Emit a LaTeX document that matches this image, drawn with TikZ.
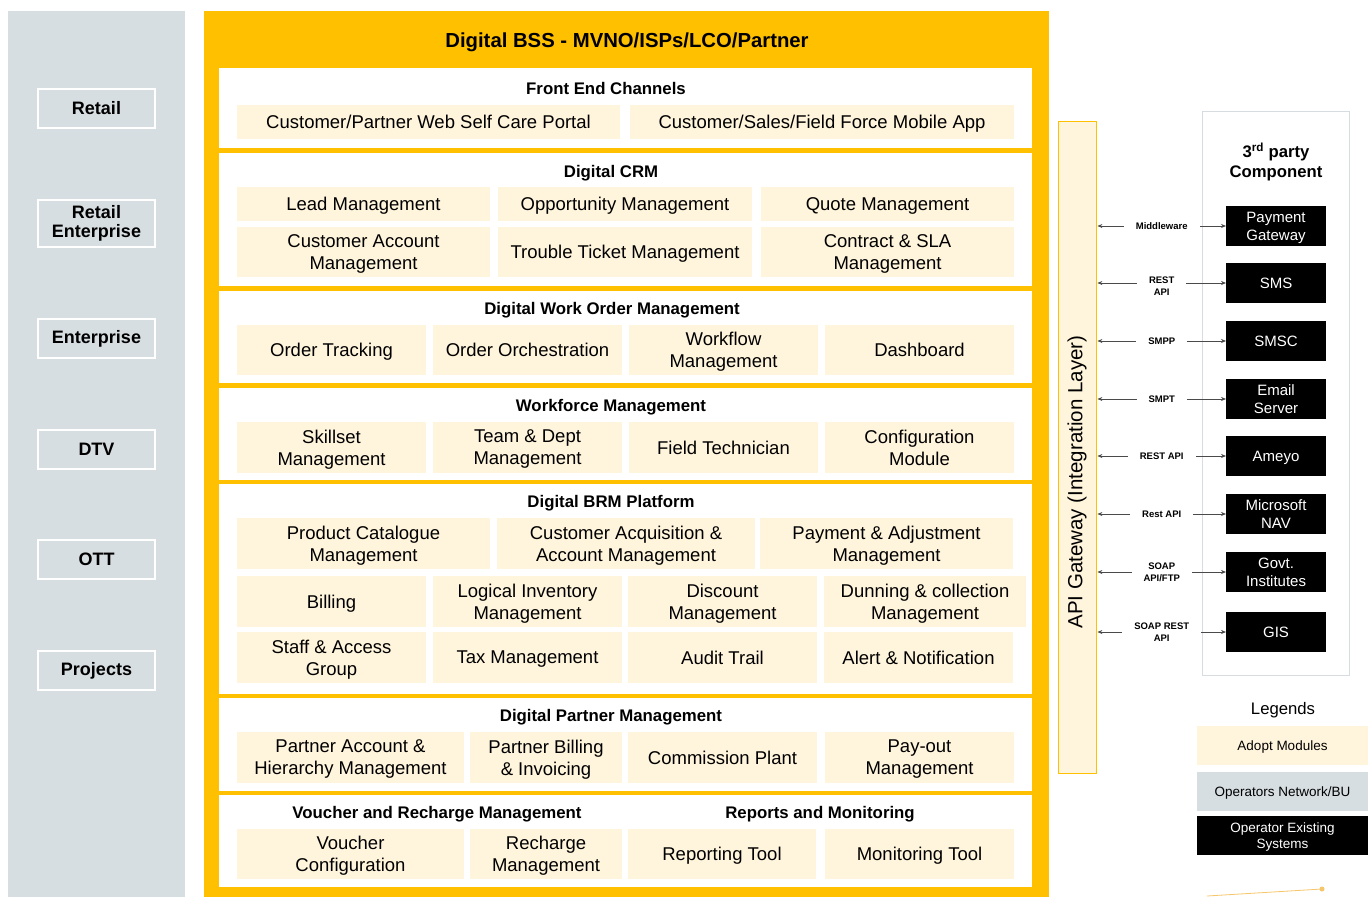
\documentclass[tikz,border=0pt]{standalone}
\usepackage{fontspec}
\setmainfont{Liberation Sans}
\usetikzlibrary{arrows.meta}
\definecolor{yel}{HTML}{FFC000}
\definecolor{cream}{HTML}{FFF5DC}
\definecolor{panelgray}{HTML}{D7DEE1}
\definecolor{bordergray}{HTML}{D6DCE0}
\definecolor{arrgray}{HTML}{4A4A4A}
\definecolor{faintorange}{HTML}{F5C76A}
\newcommand\boxat[6]{%
  \node[mod, minimum width={(#4-#2)*1pt}, minimum height={(#5-#3)*1pt}] (#1) at ({(#2+#4)/2},{(#3+#5)/2}) {#6};}
\tikzset{
  mod/.style={fill=cream, inner sep=0pt, outer sep=0pt, align=center, text depth=0pt, font=\fontsize{18.5}{22}\selectfont},
  sectitle/.style={inner sep=0pt, text depth=0pt, font=\bfseries\fontsize{16.8}{20}\selectfont},
  bizbox/.style={draw=white, line width=2pt, fill=panelgray, align=center, inner sep=0pt, minimum width=117, minimum height=39, font=\bfseries\fontsize{18}{19}\selectfont},
  extsys/.style={fill=black, text=white, align=center, inner sep=0pt, outer sep=0pt, minimum width=100, minimum height=40, text depth=0pt, font=\fontsize{15}{18}\selectfont},
  link/.style={draw=arrgray, line width=0.7pt, {Stealth[length=5pt,width=4pt]}-{Stealth[length=5pt,width=4pt]}},
  linklabel/.style={fill=white, inner xsep=12pt, inner ysep=1pt, align=center, font=\bfseries\fontsize{9.5}{12}\selectfont},
  legbox/.style={inner sep=0pt, minimum width=171, minimum height=39, align=center, text depth=0pt, font=\fontsize{13.5}{16}\selectfont}
}
\begin{document}
\begin{tikzpicture}[x=1pt,y=-1pt]
\useasboundingbox (0,0) rectangle (1370,897);
\fill[white] (0,0) rectangle (1370,897);
% left operators panel
\fill[panelgray] (8,11) rectangle (185,897);
\node[bizbox] (retail) at (96.5,108.5) {Retail};
\node[bizbox, minimum height=47] (retent) at (96.5,223.5) {Retail\\Enterprise};
\node[bizbox] (enterprise) at (96.5,338.5) {Enterprise};
\node[bizbox] (dtv) at (96.5,449.5) {DTV};
\node[bizbox] (ott) at (96.5,559.5) {OTT};
\node[bizbox] (projects) at (96.5,670.5) {Projects};
% main yellow panel
\fill[yel] (204,11) rectangle (1049,897);
\node[inner sep=0pt, text depth=0pt, font=\bfseries\fontsize{20.3}{24}\selectfont] (maintitle) at (627,40) {Digital BSS - MVNO/ISPs/LCO/Partner};
\fill[white] (219,68) rectangle (1032,148);
\fill[white] (219,153) rectangle (1032,286);
\fill[white] (219,291) rectangle (1032,383);
\fill[white] (219,388) rectangle (1032,480);
\fill[white] (219,484) rectangle (1032,694);
\fill[white] (219,698) rectangle (1032,791);
\fill[white] (219,795) rectangle (1032,887);
% section titles
\node[sectitle] (t1) at (606,88) {Front End Channels};
\node[sectitle] (t2) at (611,171) {Digital CRM};
\node[sectitle] (t3) at (612,308) {Digital Work Order Management};
\node[sectitle] (t4) at (611,405) {Workforce Management};
\node[sectitle] (t5) at (611,501) {Digital BRM Platform};
\node[sectitle] (t6) at (611,715) {Digital Partner Management};
\node[sectitle] (t7) at (437,812) {Voucher and Recharge Management};
\node[sectitle] (t8) at (820,812) {Reports and Monitoring};
% front end
\boxat{fe1}{237}{105}{620}{139}{Customer/Partner Web Self Care Portal}
\boxat{fe2}{630}{105}{1014}{139}{Customer/Sales/Field Force Mobile App}
% CRM
\boxat{lead}{237}{187}{490}{221}{Lead Management}
\boxat{opp}{498}{187}{752}{221}{Opportunity Management}
\boxat{quote}{761}{187}{1014}{221}{Quote Management}
\boxat{custacc}{237}{227}{490}{277}{Customer Account\\Management}
\boxat{trouble}{498}{227}{752}{277}{Trouble Ticket Management}
\boxat{contract}{761}{227}{1014}{277}{Contract \& SLA\\Management}
% work order
\boxat{ordtrack}{237}{325}{426}{375}{Order Tracking}
\boxat{orch}{433}{325}{622}{375}{Order Orchestration}
\boxat{workflow}{629}{325}{818}{375}{Workflow\\Management}
\boxat{dash}{825}{325}{1014}{375}{Dashboard}
% workforce
\boxat{skill}{237}{422}{426}{473}{Skillset\\Management}
\boxat{team}{433}{422}{622}{473}{Team \& Dept\\Management}
\boxat{fieldtech}{629}{422}{818}{473}{Field Technician}
\boxat{config}{825}{422}{1014}{473}{Configuration\\Module}
% BRM
\boxat{prodcat}{237}{518}{490}{569}{Product Catalogue\\Management}
\boxat{custacq}{497}{518}{755}{569}{Customer Acquisition \&\\Account Management}
\boxat{payadj}{760}{518}{1013}{569}{Payment \& Adjustment\\Management}
\boxat{billing}{237}{576}{426}{627}{Billing}
\boxat{loginv}{433}{576}{622}{627}{Logical Inventory\\Management}
\boxat{discount}{628}{576}{817}{627}{Discount\\Management}
\boxat{dunning}{824}{576}{1026}{627}{Dunning \& collection\\Management}
\boxat{staff}{237}{632}{426}{683}{Staff \& Access\\Group}
\boxat{tax}{433}{632}{622}{683}{Tax Management}
\boxat{audit}{628}{632}{817}{683}{Audit Trail}
\boxat{alert}{824}{632}{1013}{683}{Alert \& Notification}
% partner
\boxat{paracc}{237}{732}{464}{783}{Partner Account \&\\Hierarchy Management}
\boxat{parbill}{470}{732}{622}{783}{Partner Billing\\\& Invoicing}
\boxat{commission}{628}{732}{817}{783}{Commission Plant}
\boxat{payout}{825}{732}{1014}{783}{Pay-out\\Management}
% voucher / reports
\boxat{vconf}{237}{829}{464}{879}{Voucher\\Configuration}
\boxat{rechg}{470}{829}{622}{879}{Recharge\\Management}
\boxat{report}{628}{829}{816}{879}{Reporting Tool}
\boxat{monitor}{825}{829}{1014}{879}{Monitoring Tool}
% API gateway
\node[draw=yel, line width=1.8pt, fill=cream, minimum width=38, minimum height=652, inner sep=0pt] (gw) at (1077.5,447.5) {};
\node[rotate=90, inner sep=0pt, font=\fontsize{20.5}{24}\selectfont] (gwtext) at (1077,482) {API Gateway (Integration Layer)};
% third party panel
\node[draw=bordergray, line width=1.5pt, fill=white, minimum width=147, minimum height=564, inner sep=0pt] (tp) at (1276,393.5) {};
\node[align=center, inner sep=0pt, font=\bfseries\fontsize{16.7}{20}\selectfont] (tptitle) at (1276,162) {3\textsuperscript{rd} party\\Component};
\node[extsys] (pg) at (1276,226) {Payment\\Gateway};
\node[extsys] (sms) at (1276,283) {SMS};
\node[extsys] (smsc) at (1276,341) {SMSC};
\node[extsys] (email) at (1276,399) {Email\\Server};
\node[extsys] (ameyo) at (1276,456) {Ameyo};
\node[extsys] (nav) at (1276,514) {Microsoft\\NAV};
\node[extsys] (govt) at (1276,572) {Govt.\\Institutes};
\node[extsys] (gis) at (1276,632) {GIS};
% links
\draw[link] (gw.east |- pg) -- node[linklabel] (l1) {Middleware} (pg.west);
\draw[link] (gw.east |- sms) -- node[linklabel, yshift=-3pt] (l2) {REST\\API} (sms.west);
\draw[link] (gw.east |- smsc) -- node[linklabel] (l3) {SMPP} (smsc.west);
\draw[link] (gw.east |- email) -- node[linklabel] (l4) {SMPT} (email.west);
\draw[link] (gw.east |- ameyo) -- node[linklabel] (l5) {REST API} (ameyo.west);
\draw[link] (gw.east |- nav) -- node[linklabel] (l6) {Rest API} (nav.west);
\draw[link] (gw.east |- govt) -- node[linklabel] (l7) {SOAP\\API/FTP} (govt.west);
\draw[link] (gw.east |- gis) -- node[linklabel] (l8) {SOAP REST\\API} (gis.west);
% legends
\node[inner sep=0pt, text depth=0pt, font=\fontsize{16.7}{20}\selectfont] (legtitle) at (1283,708) {Legends};
\node[legbox, fill=cream] (leg1) at (1282.5,745.5) {Adopt Modules};
\node[legbox, fill=panelgray] (leg2) at (1282.5,791.5) {Operators Network/BU};
\node[legbox, fill=black, text=white, font=\fontsize{13.5}{16}\selectfont] (leg3) at (1282.5,835.5) {Operator Existing\\Systems};
% faint remnant at bottom
\coordinate (r1) at (1207,896);
\coordinate (r2) at (1322,889);
\draw[faintorange, line width=0.8pt] (r1) -- (r2);
\fill[faintorange] (r2) circle (2.5);
\end{tikzpicture}
\end{document}
